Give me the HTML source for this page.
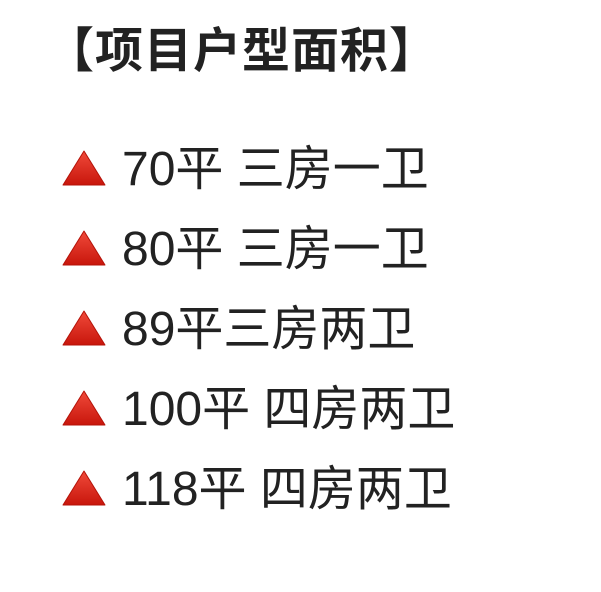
<!DOCTYPE html>
<html><head><meta charset="utf-8"><style>
body{margin:0;width:601px;height:592px;background:#fff;overflow:hidden;position:relative;font-family:"Liberation Sans","Noto Sans CJK SC",sans-serif;color:#222;}
.t{position:absolute;left:46px;top:28px;font-size:48px;line-height:48px;font-weight:bold;white-space:nowrap;letter-spacing:1px;}
.l{position:absolute;left:122px;font-size:48px;line-height:48px;white-space:nowrap;}
.tri{position:absolute;left:62px;width:44px;height:36px;}
</style></head><body>
<div class="t">【项目户型面积】</div>
<svg width="0" height="0" style="position:absolute"><defs><linearGradient id="g" x1="0" y1="0" x2="0" y2="1"><stop offset="0" stop-color="#f04a3a"/><stop offset="1" stop-color="#c8160c"/></linearGradient></defs></svg>
<svg class="tri" style="top:150px" viewBox="0 0 44 36"><path d="M22 1 L43 35 L1 35 Z" fill="url(#g)" stroke="#b51208" stroke-width="1" stroke-linejoin="round"/></svg>
<div class="l" style="top:146px">70平 三房一卫</div>
<svg class="tri" style="top:230px" viewBox="0 0 44 36"><path d="M22 1 L43 35 L1 35 Z" fill="url(#g)" stroke="#b51208" stroke-width="1" stroke-linejoin="round"/></svg>
<div class="l" style="top:226px">80平 三房一卫</div>
<svg class="tri" style="top:310px" viewBox="0 0 44 36"><path d="M22 1 L43 35 L1 35 Z" fill="url(#g)" stroke="#b51208" stroke-width="1" stroke-linejoin="round"/></svg>
<div class="l" style="top:306px">89平三房两卫</div>
<svg class="tri" style="top:390px" viewBox="0 0 44 36"><path d="M22 1 L43 35 L1 35 Z" fill="url(#g)" stroke="#b51208" stroke-width="1" stroke-linejoin="round"/></svg>
<div class="l" style="top:386px">100平 四房两卫</div>
<svg class="tri" style="top:470px" viewBox="0 0 44 36"><path d="M22 1 L43 35 L1 35 Z" fill="url(#g)" stroke="#b51208" stroke-width="1" stroke-linejoin="round"/></svg>
<div class="l" style="top:466px">118平 四房两卫</div>
</body></html>
